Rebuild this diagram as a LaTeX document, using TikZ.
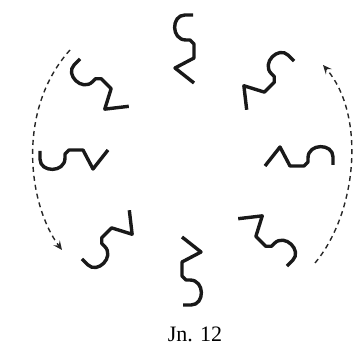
\documentclass[tikz,border=0pt]{standalone}
\usepackage{fontspec}
\setmainfont{Liberation Serif}
\usetikzlibrary{arrows.meta,calc}
\tikzset{
  glyphline/.style={line width=3.4pt, line join=round, line cap=butt, black!90},
  glyph/.pic={\draw[glyphline] (5,145) -- (-3,145) .. controls (-17,145) and (-17,120) .. (-2,120) -- (2,120) -- (6,116) -- (6,102) -- (-13,92) -- (6,77);},
  turnarrow/.style={line width=1.4pt, dash pattern=on 5pt off 4pt, black!85, -{Stealth[length=9pt,width=8pt,inset=3.5pt]}}
}
\begin{document}
\begin{tikzpicture}[x=1pt,y=1pt]
\useasboundingbox (0,0) rectangle (353,351);
\coordinate (c) at (188,191);
% eight rotated glyphs
\pic[rotate=0] at (c) {glyph};
\pic[rotate=45] at ($(c)+(-9,-5)$) {glyph};
\pic[rotate=90] at ($(c)+(-3,4)$) {glyph};
\pic[rotate=135] at (c) {glyph};
\pic[rotate=180] at (c) {glyph};
\pic[rotate=225] at (c) {glyph};
\pic[rotate=270] at (c) {glyph};
\pic[rotate=315] at (c) {glyph};
% dashed arrows
\coordinate (la) at (70,301);
\coordinate (lb) at (62,101);
\coordinate (ra) at (315,88);
\coordinate (rb) at (323,286);
\draw[turnarrow] (la) .. controls (15.5,240.5) and (28.5,145.5) .. (lb);
\draw[turnarrow] (ra) .. controls (356.9,137.9) and (366.4,236) .. (rb);
% caption
\node[font=\fontsize{22}{26}\selectfont, anchor=base] (cap) at (195,10) {Jn. 12};
\end{tikzpicture}
\end{document}
